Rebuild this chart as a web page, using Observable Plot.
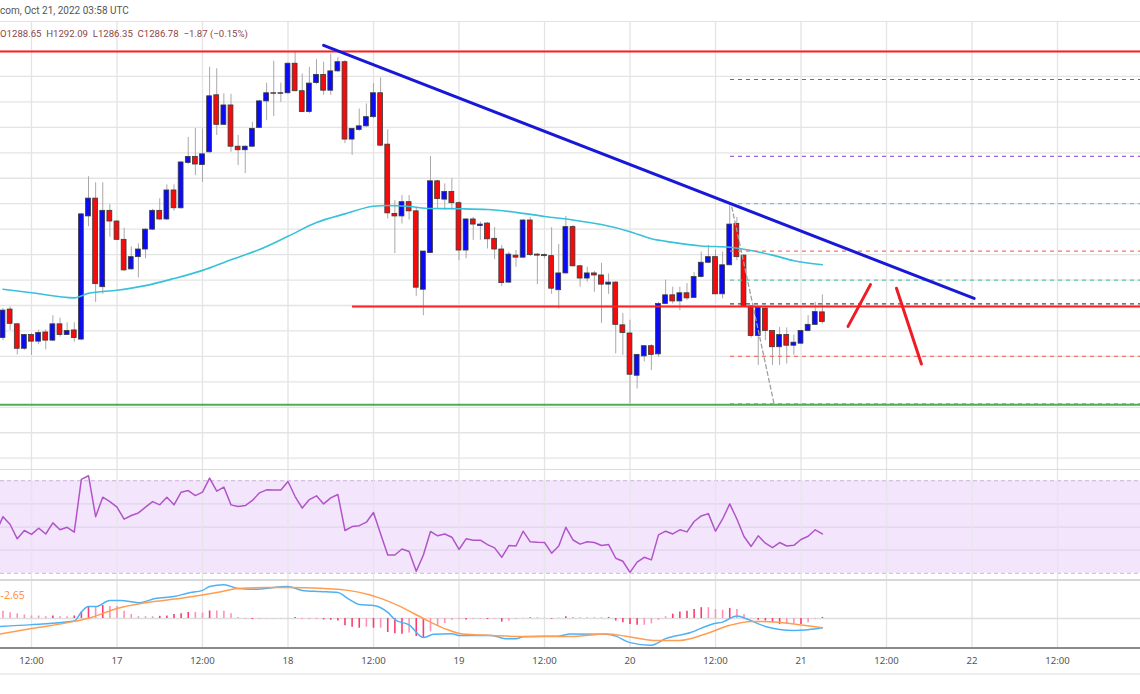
<!DOCTYPE html>
<html><head><meta charset="utf-8">
<script src="https://cdn.jsdelivr.net/npm/d3@7"></script>
<script src="https://cdn.jsdelivr.net/npm/@observablehq/plot@0.6"></script>
<style>
body{margin:0;background:#fff;width:1140px;height:694px;overflow:hidden;font-family:Roboto,"Liberation Sans",sans-serif}
#wrap{position:relative;width:1140px;height:694px;overflow:hidden}
.pane{position:absolute;left:0;width:1140px}
.sep{position:absolute;left:0;width:1140px}
.hdr{position:absolute;left:0;white-space:pre;line-height:14px}
</style></head><body><div id="wrap"></div>
<script>
// hours counted from 2022-10-16 12:00 UTC, one candle per hour
const firstHour = -4;
const open = [1283.6,1289.2,1286.3,1281.5,1284.2,1282.9,1284.7,1283.1,1286.3,1284.2,1285.1,1283.3,1307.5,1311.0,1293.6,1308.6,1306.5,1302.9,1297.1,1299.5,1301.0,1304.9,1308.6,1306.9,1312.6,1309.1,1318.0,1319.2,1317.6,1320.1,1331.3,1325.5,1329.3,1321.2,1320.5,1321.2,1324.9,1330.1,1331.7,1331.6,1331.7,1337.5,1332.1,1328.0,1333.7,1335.3,1332.2,1336.0,1337.8,1322.6,1324.5,1325.2,1327.0,1331.7,1321.6,1308.0,1307.5,1310.3,1308.5,1293.1,1300.3,1314.4,1310.8,1312.3,1310.1,1300.8,1306.9,1305.6,1306.1,1303.1,1301.0,1294.5,1299.8,1299.4,1306.7,1300.0,1299.9,1299.7,1293.0,1296.3,1305.4,1297.7,1295.3,1296.3,1295.9,1294.1,1294.5,1286.1,1284.5,1276.2,1280.0,1282.0,1280.4,1290.3,1292.0,1290.8,1292.4,1291.5,1295.6,1298.4,1299.5,1292.2,1297.9,1306.0,1299.8,1289.8,1284.0,1289.4,1285.0,1281.8,1284.2,1282.1,1282.5,1285.0,1286.2,1288.65];
const high = [1289.4,1289.7,1286.5,1284.3,1284.5,1285.2,1285.2,1288.0,1287.5,1286.6,1286.6,1308.1,1315.3,1314.1,1314.1,1309.8,1306.7,1305.2,1301.5,1302.1,1305.1,1308.9,1311.0,1313.7,1313.7,1318.3,1323.0,1324.8,1324.7,1336.8,1336.5,1331.6,1331.5,1323.4,1321.4,1326.0,1330.3,1333.7,1338.0,1333.7,1337.7,1339.8,1335.5,1336.8,1338.3,1337.8,1339.4,1338.7,1338.1,1324.8,1328.6,1329.6,1333.6,1334.7,1324.5,1310.6,1311.6,1311.6,1309.3,1300.6,1319.3,1314.6,1313.9,1314.9,1310.4,1307.1,1307.3,1306.4,1306.3,1305.3,1301.8,1300.5,1300.8,1306.9,1307.3,1300.2,1300.2,1305.3,1302.0,1307.5,1305.7,1297.9,1297.5,1296.7,1298.3,1296.2,1294.7,1288.4,1287.1,1280.4,1282.1,1282.3,1290.6,1295.0,1293.6,1293.6,1294.3,1296.5,1300.5,1301.8,1300.9,1300.5,1309.6,1307.3,1300.0,1290.0,1289.6,1289.5,1285.1,1285.7,1285.6,1284.2,1285.1,1288.0,1290.6,1292.09];
const low = [1283.1,1285.1,1280.3,1281.2,1280.2,1282.3,1281.3,1282.9,1283.8,1284.1,1282.8,1283.1,1305.5,1290.6,1292.2,1303.4,1302.8,1296.7,1296.9,1295.4,1299.2,1304.7,1306.7,1306.7,1308.5,1308.9,1317.7,1315.5,1314.2,1319.9,1323.4,1325.4,1320.1,1317.5,1315.9,1321.0,1324.8,1326.3,1327.1,1329.9,1331.5,1332.0,1327.9,1327.7,1333.4,1331.3,1331.3,1335.8,1321.8,1319.5,1324.2,1325.0,1326.7,1321.2,1307.0,1300.2,1306.0,1306.8,1291.8,1288.0,1300.2,1309.0,1308.7,1308.8,1298.8,1299.2,1302.8,1302.8,1301.1,1299.0,1293.7,1294.3,1297.5,1299.2,1299.6,1294.1,1299.2,1292.2,1289.3,1296.2,1297.5,1293.6,1294.6,1292.6,1286.5,1292.2,1280.5,1280.2,1270.7,1273.6,1278.9,1277.2,1279.8,1290.2,1290.3,1289.0,1291.0,1291.4,1295.4,1298.2,1292.1,1291.3,1297.8,1298.8,1289.6,1283.6,1278.2,1283.1,1278.2,1278.2,1278.5,1280.2,1282.3,1284.8,1286.1,1286.35];
const close = [1289.0,1286.4,1281.5,1284.2,1282.9,1284.6,1283.1,1286.3,1284.2,1285.0,1283.6,1307.9,1311.0,1294.2,1308.6,1306.5,1302.9,1296.9,1299.5,1301.0,1304.9,1308.6,1306.9,1312.6,1309.1,1318.1,1319.2,1317.7,1319.7,1331.1,1325.5,1329.3,1321.2,1320.5,1321.2,1324.7,1330.1,1331.7,1331.6,1331.7,1337.5,1332.1,1328.0,1333.6,1335.3,1332.2,1336.0,1337.8,1322.6,1324.7,1325.2,1327.0,1331.7,1321.4,1308.1,1307.5,1310.3,1308.5,1293.5,1300.6,1314.4,1310.9,1312.3,1310.1,1300.8,1306.9,1305.9,1305.9,1303.0,1301.0,1294.4,1300.0,1299.4,1306.7,1299.9,1299.8,1299.7,1293.3,1296.3,1305.4,1297.7,1295.3,1296.3,1295.9,1294.1,1294.5,1286.2,1284.6,1276.4,1280.3,1282.0,1280.3,1290.3,1292.0,1290.8,1292.4,1291.4,1295.6,1298.4,1299.5,1292.2,1297.9,1305.9,1299.5,1289.8,1284.0,1289.5,1285.0,1281.8,1284.2,1282.1,1282.7,1285.0,1286.2,1288.7,1286.78];

const emaHours = [-4,0,6,8,12,16,20,24,28,32,36,40,44,48,50,53,56,60,64,68,72,76,80,84,87,90,94,98,101,104,107,111];
const emaValues = [1293.2,1292.5,1291.5,1292.4,1293.0,1293.9,1295.3,1296.9,1299.0,1301.0,1303.6,1306.3,1308.0,1309.5,1309.65,1309.45,1309.05,1309.0,1308.86,1308.3,1307.5,1306.8,1305.9,1304.5,1303.1,1302.4,1301.7,1301.45,1300.8,1299.9,1298.8,1298.0];

const resistancePrice = 1339.9;
const supportPrice = 1289.8;
const supportStartHour = 45.05;
const lowLinePrice = 1270.5;
const trendHours = [41.0, 132.3];
const trendPrices = [1341.1, 1291.4];
const strokeAHours = [114.6, 117.75];
const strokeAPrices = [1285.9, 1294.1];
const strokeBHours = [121.4, 124.9];
const strokeBPrices = [1293.4, 1278.5];
const fibStartHour = 98.1;
const fibPrices = [1334.4,1319.3,1310.0,1300.7,1295.0,1290.3,1280.0,1270.7];
const fibColors = ["#5f5fe6","#a35ddb","#72bde9","#f27272","#5fc3a9","#4a4a4a","#f27272","#9a9a9a"];
const fibDiagHours = [98.3, 104.2];
const fibDiagPrices = [1309.3, 1270.8];

const rsiFirstHour = -5;
const rsi = [47.6,54.5,51.1,44.9,48.5,46.8,49.5,47.0,51.8,48.8,49.9,47.8,70.6,72.2,54.5,62.9,61.0,58.6,53.4,55.0,56.1,58.6,61.0,59.6,62.9,59.6,65.1,65.8,63.6,65.1,71.2,65.5,67.3,59.6,58.9,59.3,61.5,64.8,66.1,66.0,66.0,69.7,63.2,58.2,61.9,63.5,60.0,62.6,64.1,48.5,50.2,50.6,52.1,56.3,47.0,37.9,37.9,40.5,39.4,30.9,37.9,48.1,46.2,47.0,45.6,40.3,44.9,44.3,44.3,42.4,41.0,36.9,42.0,41.8,48.2,43.6,43.4,43.3,38.7,41.8,49.9,44.4,42.6,43.6,43.3,42.0,42.4,36.5,35.2,30.4,34.8,36.9,35.8,46.6,48.2,47.0,48.8,47.9,52.4,54.8,55.8,48.2,53.5,60.0,53.5,45.9,41.6,46.2,43.0,41.1,43.3,41.8,42.1,44.6,46.0,48.8,47.0];
const rsiBand = [30, 70];
const rsiGrid = [40, 50, 60];

const hist = [2.0,1.6,1.3,1.0,0.7,0.7,0.5,0.7,0.5,0.5,0.7,1.8,3.3,3.3,3.6,3.3,3.3,2.0,1.1,0.5,0.5,0.5,0.6,0.7,1.1,1.3,1.7,1.7,1.5,2.1,2.1,2.0,1.3,0.3,-0.2,-0.3,-0.2,-0.1,-0.1,-0.1,0.1,0.3,-0.3,-0.3,-0.3,-0.4,-0.5,-0.7,-2.0,-2.4,-2.7,-2.4,-2.7,-2.7,-3.9,-4.2,-4.4,-4.0,-5.0,-5.3,-3.7,-2.2,-1.4,-0.5,-0.3,-0.4,-0.2,-0.2,-0.3,-0.2,-1.0,-0.7,-0.2,0.1,0.2,0.2,0.1,-0.2,0.1,0.5,0.3,0.2,0.2,0.2,0.2,0.3,-0.7,-1.2,-1.7,-1.9,-1.9,-1.5,-0.5,0.5,1.2,1.8,2.0,2.5,3.0,3.0,2.5,2.3,2.8,2.5,1.1,0.05,-0.5,-0.7,-1.2,-1.7,-1.7,-1.5,-1.7,-1.2,-0.2,0.3];
const macdHours = [-4.4,0,6,7,8,9,11,12.5,15,17.5,20,22,24,25,27,29,31,36,38,40.5,43,44.6,46,48,50,51,53,55,56.4,59,60,64.6,66.5,68,69,72,74,75.6,80.7,82,84,87,89,92.5,95.6,97,99,100.6,103,107,109,111];
const macdValues = [-2.2,-1.7,-0.7,1.8,3.3,3.3,5.0,5.0,4.4,5.6,6.1,7.1,7.8,8.9,9.4,8.3,8.1,8.9,7.8,7.5,7.2,5.3,3.9,3.6,1.7,-0.3,-1.8,-5.3,-4.4,-4.2,-4.7,-4.7,-5.6,-5.6,-5.1,-4.9,-4.9,-4.3,-4.4,-4.9,-6.7,-7.4,-5.6,-3.9,-1.5,-1.0,0.7,-0.3,-2.2,-3.3,-3.1,-2.6];
const signalHours = [-4.4,0,6,8.4,12,16,21,26,29,33,36.5,43,48.7,51.8,55,58,60.5,64.6,68.6,72,75.6,80.7,83.4,87.4,91,94.6,98,101,104.3,107,111];
const signalValues = [-4.3,-2.8,-0.8,0.3,2.8,4.4,5.6,7.2,8.3,8.6,8.6,8.1,5.8,3.3,0,-2.8,-4.3,-4.7,-5.0,-5.0,-5.0,-4.3,-4.9,-6.1,-6.1,-4.3,-1.9,-0.8,-1.0,-1.5,-2.6];
const macdLabel = "-2.65";

const tickHours = [0,12,24,36,48,60,72,84,96,108,120,132,144];
const tickLabels = ["12:00","17","12:00","18","12:00","19","12:00","20","12:00","21","12:00","22","12:00"];
const priceGrid = [1260,1265,1270,1275,1280,1285,1290,1295,1300,1305,1310,1315,1320,1325,1330,1335,1340];

const headerText = "com, Oct 21, 2022 03:58 UTC";
const ohlcText = "O1288.65  H1292.09  L1286.35  C1286.78  \u22121.87 (\u22120.15%)";

// ---------- build ----------
const W = 1140;
const xDomain = [-4.351, 155.65];
const xScale = {domain: xDomain, range: [0, W]};
const gridColor = "#e4e4e4";
const wrap = document.getElementById("wrap");

const candles = open.map((o, i) => ({hour: firstHour + i, open: o, high: high[i], low: low[i], close: close[i]}));
const ema = emaHours.map((h, i) => ({hour: h, v: emaValues[i]}));
const fib = fibPrices.map((p, i) => ({p, c: fibColors[i]}));
const rsiData = rsi.map((v, i) => ({hour: rsiFirstHour + i, v}));
const histData = hist.map((v, i) => ({hour: firstHour + i, v, grow: i > 0 && Math.abs(v) > Math.abs(hist[i - 1])}));
const macdData = macdHours.map((h, i) => ({hour: h, v: macdValues[i]}));
const sigData = signalHours.map((h, i) => ({hour: h, v: signalValues[i]}));
const pts = (hs, vs) => hs.map((h, i) => ({hour: h, v: vs[i]}));

function place(el, top) {
  const d = document.createElement("div");
  d.className = "pane"; d.style.top = top + "px";
  d.appendChild(el); wrap.appendChild(d);
}
function line(top, h, color) {
  const d = document.createElement("div");
  d.className = "sep"; d.style.top = top + "px"; d.style.height = h + "px"; d.style.background = color;
  wrap.appendChild(d);
}

// price pane
const priceH = 447;
const price = Plot.plot({
  width: W, height: priceH, margin: 0,
  x: {...xScale, axis: null},
  y: {domain: [1257.78, 1345.6], range: [priceH, 0], axis: null},
  style: {background: "transparent", overflow: "visible"},
  marks: [
    Plot.ruleY(priceGrid, {stroke: gridColor, strokeWidth: 1.3}),
    Plot.ruleX(tickHours, {stroke: gridColor, strokeWidth: 1.3}),
    Plot.ruleX(candles, {x: "hour", y1: "low", y2: "high", stroke: "#a8a8a8", strokeWidth: 1}),
    Plot.rect(candles, {x1: d => d.hour - 0.34, x2: d => d.hour + 0.34, y1: "open", y2: "close",
      fill: d => d.close >= d.open ? "#0b0bf5" : "#f50b0b", stroke: "#3a3a3a", strokeWidth: 0.8}),
    Plot.line(ema, {x: "hour", y: "v", stroke: "#37c1da", strokeWidth: 1.6, curve: "monotone-x"}),
    Plot.ruleY(fib, {y: "p", x1: fibStartHour, x2: xDomain[1], stroke: "c", strokeWidth: 1.2, strokeDasharray: "4,4"}),
    Plot.line(pts(fibDiagHours, fibDiagPrices), {x: "hour", y: "v", stroke: "#a0a0a0", strokeWidth: 1.3, strokeDasharray: "4,3"}),
    Plot.ruleY([resistancePrice], {stroke: "#ff1f1f", strokeWidth: 2}),
    Plot.ruleY([supportPrice], {x1: supportStartHour, x2: xDomain[1], stroke: "#ff1f1f", strokeWidth: 2}),
    Plot.ruleY([lowLinePrice], {stroke: "#4caf50", strokeWidth: 2}),
    Plot.line(pts(trendHours, trendPrices), {x: "hour", y: "v", stroke: "#1818d8", strokeWidth: 3}),
    Plot.line(pts(strokeAHours, strokeAPrices), {x: "hour", y: "v", stroke: "#ee1c25", strokeWidth: 3, strokeLinecap: "round"}),
    Plot.line(pts(strokeBHours, strokeBPrices), {x: "hour", y: "v", stroke: "#ee1c25", strokeWidth: 3, strokeLinecap: "round"})
  ]
});
place(price, 22);

// RSI pane
const rsiH = 110;
const rsiPlot = Plot.plot({
  width: W, height: rsiH, margin: 0,
  x: {...xScale, axis: null},
  y: {domain: [27.3, 74.9], range: [rsiH, 0], axis: null},
  style: {background: "transparent", overflow: "hidden"},
  marks: [
    Plot.rect([rsiBand], {x1: xDomain[0], x2: xDomain[1], y1: d => d[0], y2: d => d[1], fill: "#f3e6fc"}),
    Plot.ruleY(rsiGrid, {stroke: "#e0d4ea", strokeWidth: 1.3}),
    Plot.ruleY(rsiBand, {stroke: "#c9b3d9", strokeWidth: 1.1, strokeDasharray: "4,3"}),
    Plot.ruleX(tickHours, {stroke: gridColor, strokeWidth: 1.3, strokeOpacity: 0.9}),
    Plot.line(rsiData, {x: "hour", y: "v", stroke: "#b254c9", strokeWidth: 1.5})
  ]
});
place(rsiPlot, 469);

// MACD pane
const macdH = 115, macdMB = 46;
const macdPlot = Plot.plot({
  width: W, height: macdH, marginTop: 0, marginLeft: 0, marginRight: 0, marginBottom: macdMB,
  x: {...xScale, axis: null},
  y: {domain: [-8.33, 10.83], range: [macdH - macdMB, 0], axis: null},
  style: {background: "transparent", overflow: "visible"},
  marks: [
    Plot.ruleX(tickHours, {y1: -8.33, y2: 10.83, stroke: gridColor, strokeWidth: 1.3}),
    Plot.ruleY([0], {stroke: "#dedede", strokeWidth: 1.3}),
    Plot.ruleX(histData, {x: "hour", y1: 0, y2: "v", stroke: d => d.grow ? "#ff3a6e" : "#ff92b4", strokeWidth: 1.6}),
    Plot.line(macdData, {x: "hour", y: "v", stroke: "#4fb1f3", strokeWidth: 1.5, curve: "monotone-x"}),
    Plot.line(sigData, {x: "hour", y: "v", stroke: "#ff9d52", strokeWidth: 1.5, curve: "monotone-x"}),
    Plot.text([macdLabel], {frameAnchor: "top-left", dx: 0, dy: 16, text: d => d, fill: "#ff9446", fontSize: 10.5, textAnchor: "start", lineAnchor: "middle"}),
    Plot.text(tickHours, {x: d => d, frameAnchor: "bottom", dy: 12, text: (d, i) => tickLabels[i], fill: "#555", fontSize: 9.6, lineAnchor: "middle"})
  ]
});
place(macdPlot, 579);

// pane separators
line(21, 1, "#e2e2e2");
line(468.5, 1.2, "#dcdcdc");
line(578.5, 2, "#d8d8d8");
line(647, 2, "#8a8a8a");
line(673, 1.5, "#eeeeee");

// header texts
const h1 = document.createElement("div");
h1.className = "hdr"; h1.style.top = "4px"; h1.style.fontSize = "10px"; h1.style.color = "#555";
h1.textContent = headerText; wrap.appendChild(h1);
const h2 = document.createElement("div");
h2.className = "hdr"; h2.style.top = "27px"; h2.style.fontSize = "9.6px"; h2.style.color = "#8c4646"; h2.style.left = "0px";
h2.textContent = ohlcText; wrap.appendChild(h2);
</script></body></html>
